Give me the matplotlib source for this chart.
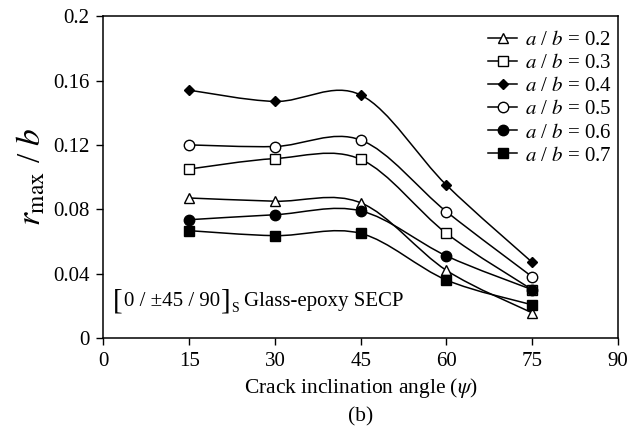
import numpy as np
import matplotlib
matplotlib.use("Agg")
import matplotlib.pyplot as plt
from matplotlib.path import Path
from matplotlib.patches import PathPatch

plt.rcParams['font.family'] = ['Liberation Serif', 'DejaVu Serif']
plt.rcParams['mathtext.fontset'] = 'stix'

angles = [15, 30, 45, 60, 75]
ratios = ["0.2", "0.3", "0.4", "0.5", "0.6", "0.7"]
r02 = [0.087, 0.085, 0.084, 0.042, 0.0156]
r03 = [0.105, 0.1115, 0.111, 0.065, 0.030]
r04 = [0.154, 0.147, 0.151, 0.095, 0.047]
r05 = [0.120, 0.119, 0.123, 0.0785, 0.038]
r06 = [0.0735, 0.0766, 0.079, 0.051, 0.030]
r07 = [0.0667, 0.0636, 0.065, 0.036, 0.0206]
series = [r02, r03, r04, r05, r06, r07]

# marker, facecolor, size
styles = [("^", "white", 7), ("s", "white", 7), ("D", "black", 5.5),
          ("o", "white", 7.5), ("o", "black", 7.5), ("s", "black", 7)]


def smooth_path(x, y):
    # Excel-like smoothed line: Catmull-Rom turned into cubic Bezier
    p = np.column_stack([x, y]).astype(float)
    n = len(p)
    verts = [p[0]]
    codes = [Path.MOVETO]
    for i in range(n - 1):
        p0 = p[i - 1] if i > 0 else p[i]
        p3 = p[i + 2] if i + 2 < n else p[i + 1]
        c1 = p[i] + (p[i + 1] - p0) / 6.0
        c2 = p[i + 1] - (p3 - p[i]) / 6.0
        verts += [c1, c2, p[i + 1]]
        codes += [Path.CURVE4] * 3
    return Path(verts, codes)


fig = plt.figure(figsize=(6.29, 4.32), dpi=100)
ax = fig.add_axes([0.1645, 0.2176, 0.818, 0.745])

for vals, lab, (m, fc, ms) in zip(series, ratios, styles):
    ax.add_patch(PathPatch(smooth_path(angles, vals), fill=False, lw=1.1,
                           edgecolor="black", zorder=2))
    ax.plot([], [], "-", color="black", lw=1.1, marker=m, mfc=fc, mec="black",
            ms=ms, label="$a$ / $b$ = " + lab)
    ax.plot(angles, vals, ls="none", marker=m, mfc=fc, mec="black",
            ms=ms, mew=1.0, zorder=3)

ax.set_xlim(0, 90)
ax.set_ylim(0, 0.2)
ax.set_xticks([0, 15, 30, 45, 60, 75, 90])
ax.set_yticks([0, 0.04, 0.08, 0.12, 0.16, 0.2])
ax.set_yticklabels(["0", "0.04", "0.08", "0.12", "0.16", "0.2"])
ax.tick_params(direction="out", length=5, width=1, labelsize=15, pad=5)
for s in ax.spines.values():
    s.set_linewidth(1.1)

ax.set_xlabel(r"Crack inclination angle ($\psi$)", fontsize=15.5, labelpad=4)
ax.set_ylabel(r"$r_{\mathrm{max}}$ / $b$", fontsize=24, labelpad=4)
fig.text(0.1645 + 0.818 / 2, 0.025, "(b)", ha="center", fontsize=15.5)

# [0 / ±45 / 90]_S label built from pieces so the brackets can be taller
t1 = ax.text(1.6, 0.0225, "[", fontsize=21, va="center")
t2 = ax.annotate("0 / ±45 / 90", xy=(1, 0.5), xycoords=t1, va="center",
                 fontsize=15, xytext=(1, 0), textcoords="offset points")
t3 = ax.annotate("]", xy=(1, 0.5), xycoords=t2, va="center",
                 fontsize=21, xytext=(1, 0), textcoords="offset points")
t4 = ax.annotate("S", xy=(1, 0), xycoords=t3, va="bottom",
                 fontsize=10, xytext=(0, 0), textcoords="offset points")
ax.annotate("Glass-epoxy SECP", xy=(1, 0.5), xycoords=(t4, t2), va="center",
            fontsize=15, xytext=(4, 0), textcoords="offset points")

ax.legend(loc="upper right", bbox_to_anchor=(1.0, 0.975), frameon=False,
          fontsize=15, handlelength=1.4, labelspacing=0.17, borderaxespad=0,
          borderpad=0.3, handletextpad=0.35)

fig.savefig("out.png", dpi=100)
